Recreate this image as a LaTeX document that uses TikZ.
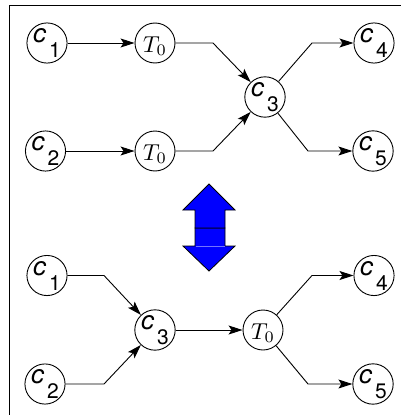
\documentclass[tikz,border=0pt]{standalone}
\usepackage{fontspec}
\setsansfont{TeX Gyre Heros}
\usetikzlibrary{arrows.meta}
\newcommand\clab[1]{{\sffamily\fontsize{26}{26}\selectfont\itshape c\kern3pt\upshape\raisebox{-15pt}{\fontsize{21}{21}\selectfont #1}}}
\newcommand\tlab{\scalebox{2.3}{$T_0$}}
\begin{document}
\begin{tikzpicture}[x=1pt,y=-1pt,
  circ/.style={circle,draw,line width=0.9pt,minimum size=40pt,inner sep=0pt},
  tnode/.style={circ,text height=18pt,text depth=0pt},
  conn/.style={line width=0.9pt,-{Stealth[length=14pt,width=9pt,inset=3pt]}},
  frameline/.style={line width=1.5pt},
  bigarrow/.style={fill=blue,draw=black,line width=0.8pt,line join=miter}]
\useasboundingbox (0,0) rectangle (401,415);
\draw[frameline] (9.5,415) -- (9.5,5.5) -- (401,5.5);
% top graph
\node[circ] (c1) at (47,43) {\clab{1}};
\node[tnode] (t1) at (155,43) {\tlab};
\node[circ] (c2) at (45.5,151) {\clab{2}};
\node[tnode] (t2) at (155,151) {\tlab};
\node[circ] (c3) at (265,97) {\clab{3}};
\node[circ] (c4) at (374,43) {\clab{4}};
\node[circ] (c5) at (373,151) {\clab{5}};
\coordinate (a1) at (213,43);
\coordinate (a2) at (213,151);
\coordinate (a3) at (312,43);
\coordinate (a4) at (308,151);
\draw[conn] (c1) -- (t1);
\draw[conn] (c2) -- (t2);
\draw[conn] (t1) -- (a1) -- (c3);
\draw[conn] (t2) -- (a2) -- (c3);
\draw[conn] (c3) -- (a3) -- (c4);
\draw[conn] (c3) -- (a4) -- (c5);
% double arrow
\draw[bigarrow] (195,228) -- (225,228) -- (225,246) -- (235,246) -- (209,271) -- (183,246) -- (195,246) -- cycle;
\draw[blue!55!white,line width=0.5pt] (195.5,246) -- (224.5,246);
\draw[bigarrow] (209,184) -- (235,210) -- (225,210) -- (225,228) -- (195,228) -- (195,210) -- (183,210) -- cycle;
% bottom graph
\node[circ] (d1) at (47,275.5) {\clab{1}};
\node[circ] (d2) at (45,384) {\clab{2}};
\node[circ] (d3) at (155,330) {\clab{3}};
\node[tnode] (t3) at (263,330) {\tlab};
\node[circ] (d4) at (374,275.5) {\clab{4}};
\node[circ] (d5) at (373,384) {\clab{5}};
\coordinate (b1) at (104,275.5);
\coordinate (b2) at (104,384);
\coordinate (b3) at (312,275.5);
\coordinate (b4) at (308,384);
\draw[conn] (d1) -- (b1) -- (d3);
\draw[conn] (d2) -- (b2) -- (d3);
\draw[conn] (d3) -- (t3);
\draw[conn] (t3) -- (b3) -- (d4);
\draw[conn] (t3) -- (b4) -- (d5);
\end{tikzpicture}
\end{document}
